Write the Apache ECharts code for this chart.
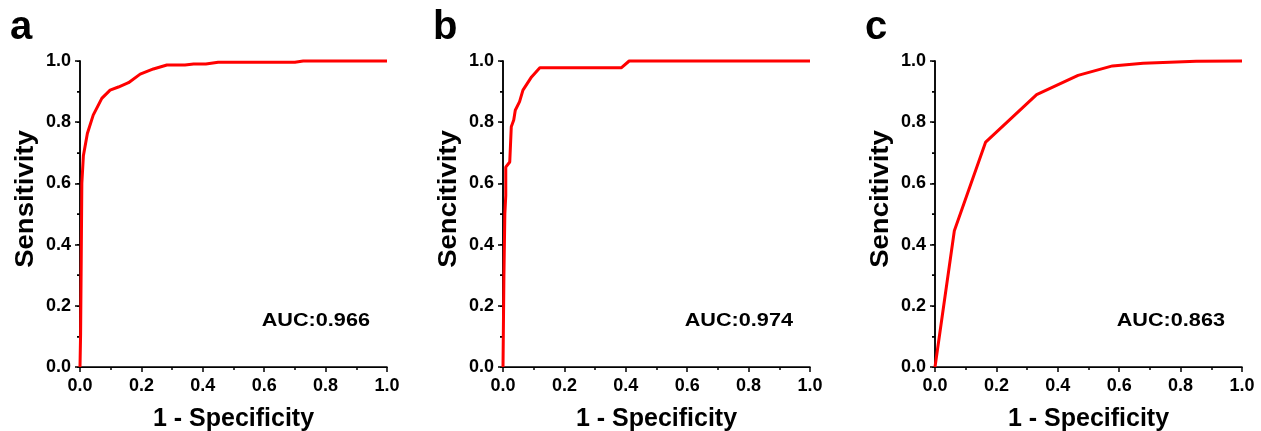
<!DOCTYPE html>
<html>
<head>
<meta charset="utf-8">
<script src="https://cdn.jsdelivr.net/npm/echarts@6/dist/echarts.min.js"></script>
<style>
  html, body { margin: 0; padding: 0; background: #fff; }
  #roc { width: 1261px; height: 431px; }
</style>
</head>
<body>
<div id="roc"></div>
<script>
// ROC curves
var fprA = [0, 0.002, 0.004, 0.006, 0.011, 0.024, 0.043, 0.071, 0.098, 0.125, 0.158, 0.196, 0.239, 0.283, 0.342, 0.37, 0.41, 0.45, 0.70, 0.727, 1.0];
var tprA = [0, 0.11, 0.35, 0.6, 0.69, 0.763, 0.823, 0.878, 0.905, 0.915, 0.929, 0.957, 0.974, 0.987, 0.987, 0.99, 0.99, 0.996, 0.996, 1.0, 1.0];

var fprB = [0, 0.003, 0.006, 0.009, 0.009, 0.022, 0.027, 0.035, 0.04, 0.054, 0.065, 0.093, 0.12, 0.386, 0.411, 1.0];
var tprB = [0, 0.3, 0.5, 0.56, 0.653, 0.67, 0.785, 0.807, 0.839, 0.867, 0.905, 0.948, 0.978, 0.978, 1.0, 1.0];

var fprC = [0, 0.063, 0.165, 0.331, 0.466, 0.578, 0.678, 0.851, 1.0];
var tprC = [0, 0.445, 0.735, 0.890, 0.953, 0.984, 0.993, 0.999, 1.0];

var panelLetters = ['a', 'b', 'c'];
var aucLabels = ['AUC:0.966', 'AUC:0.974', 'AUC:0.863'];
var yTitles = ['Sensitivity', 'Sencitivity', 'Sencitivity'];
var xTitle = '1 - Specificity';

var FONT = 'Liberation Sans, Arial, Helvetica, sans-serif';
var gridLefts = [80, 503, 935];
var gridW = 307, gridTop = 61, gridH = 306;

function zip(xs, ys) {
  var out = [];
  for (var i = 0; i < xs.length; i++) out.push([xs[i], ys[i]]);
  return out;
}
var curves = [zip(fprA, tprA), zip(fprB, tprB), zip(fprC, tprC)];

var grids = [], xAxes = [], yAxes = [], series = [], graphics = [];

for (var i = 0; i < 3; i++) {
  grids.push({ left: gridLefts[i], top: gridTop, width: gridW, height: gridH, outerBoundsMode: 'none' });

  // bottom axis
  xAxes.push({
    type: 'value', gridIndex: i, min: 0, max: 1, interval: 0.2, position: 'bottom',
    name: xTitle, nameLocation: 'middle', nameGap: 40,
    nameTextStyle: { fontFamily: FONT, fontWeight: 'bold', fontSize: 25, color: '#000' },
    axisLine: { show: true, lineStyle: { color: '#000', width: 1.5 } },
    axisTick: { show: true, length: 5, lineStyle: { color: '#000', width: 1.5 } },
    minorTick: { show: true, splitNumber: 2, length: 3, lineStyle: { color: '#000', width: 1.5 } },
    axisLabel: { fontFamily: FONT, fontWeight: 'bold', fontSize: 18, color: '#000', margin: 10,
      formatter: function (v) { return v.toFixed(1); } },
    splitLine: { show: false }
  });
  // top frame line
  xAxes.push({
    type: 'value', gridIndex: i, min: 0, max: 1, interval: 0.2, position: 'top',
    axisLine: { show: true, lineStyle: { color: '#000', width: 1 } },
    axisTick: { show: false }, axisLabel: { show: false }, splitLine: { show: false }
  });

  // left axis
  yAxes.push({
    type: 'value', gridIndex: i, min: 0, max: 1, interval: 0.2, position: 'left',
    axisLine: { show: true, lineStyle: { color: '#000', width: 1.5 } },
    axisTick: { show: true, length: 5, lineStyle: { color: '#000', width: 1.5 } },
    minorTick: { show: true, splitNumber: 2, length: 3, lineStyle: { color: '#000', width: 1.5 } },
    axisLabel: { fontFamily: FONT, fontWeight: 'bold', fontSize: 18, color: '#000', margin: 9,
      formatter: function (v) { return v.toFixed(1); } },
    splitLine: { show: false }
  });
  // right frame with inward ticks
  yAxes.push({
    type: 'value', gridIndex: i, min: 0, max: 1, interval: 0.2, position: 'right',
    axisLine: { show: true, lineStyle: { color: '#000', width: 1.5 } },
    axisTick: { show: true, inside: true, length: 3, lineStyle: { color: '#000', width: 1 } },
    minorTick: { show: true, splitNumber: 2, length: 3, lineStyle: { color: '#000', width: 1 } },
    axisLabel: { show: false }, splitLine: { show: false }
  });

  series.push({
    type: 'line', xAxisIndex: i * 2, yAxisIndex: i * 2, data: curves[i],
    showSymbol: false, symbol: 'none', clip: false,
    lineStyle: { color: '#ff0000', width: 3 }, z: 5
  });

  // y title (sits a little above the grid centre in the original)
  graphics.push({
    type: 'text', x: gridLefts[i] - 54, y: 199, rotation: Math.PI / 2, scaleX: 1.1,
    style: { text: yTitles[i], font: 'bold 25px ' + FONT, fill: '#000', align: 'center', verticalAlign: 'middle' }
  });
  graphics.push({
    type: 'text', x: gridLefts[i] - 70, y: 28,
    style: { text: panelLetters[i], font: 'bold 40px ' + FONT, fill: '#000', verticalAlign: 'middle' }
  });
  graphics.push({
    type: 'text', x: gridLefts[i] + gridW - 17, y: 321, scaleX: 1.14,
    style: { text: aucLabels[i], font: 'bold 19px ' + FONT, fill: '#000', align: 'right', verticalAlign: 'middle' }
  });
}

var chart = echarts.init(document.getElementById('roc'));
chart.setOption({
  animation: false,
  backgroundColor: '#fff',
  grid: grids,
  xAxis: xAxes,
  yAxis: yAxes,
  series: series,
  graphic: graphics
});
</script>
</body>
</html>
